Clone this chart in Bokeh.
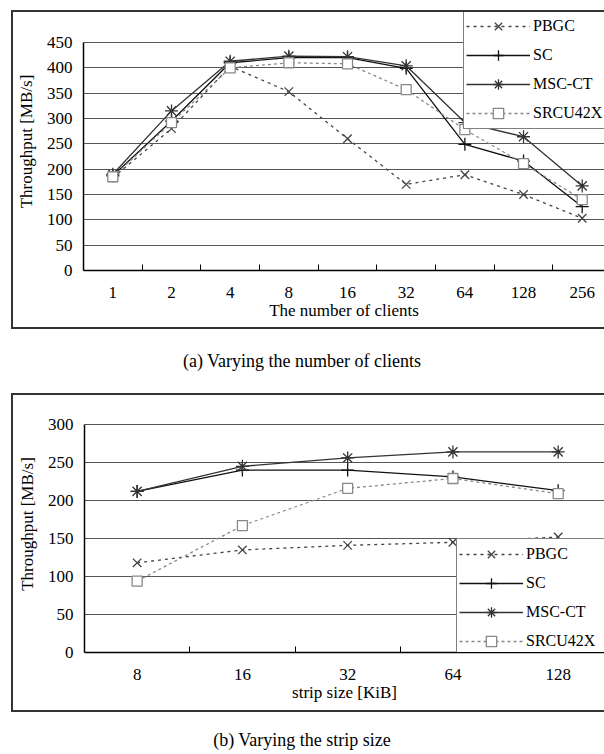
from bokeh.plotting import figure
from bokeh.models import FixedTicker, Range1d, Div, Spacer
from bokeh.layouts import column
from bokeh.embed import file_html
from bokeh.resources import INLINE

# ---------------- data ----------------
clients = ["1", "2", "4", "8", "16", "32", "64", "128", "256"]
a_pbgc = [183, 280, 403, 353, 260, 170, 189, 150, 103]
a_sc = [187, 295, 410, 420, 420, 399, 249, 216, 126]
a_msc = [190, 315, 413, 423, 422, 404, 292, 264, 167]
a_srcu = [185, 292, 400, 410, 408, 357, 278, 211, 140]
a_yticks = [0, 50, 100, 150, 200, 250, 300, 350, 400, 450]

strips = ["8", "16", "32", "64", "128"]
b_pbgc = [118, 135, 141, 145, 152]
b_sc = [212, 240, 240, 231, 213]
b_msc = [212, 245, 256, 264, 264]
b_srcu = [94, 167, 216, 229, 209]
b_yticks = [0, 50, 100, 150, 200, 250, 300]

series_names = ["PBGC", "SC", "MSC-CT", "SRCU42X"]

STYLE = {
    "PBGC": dict(color="#444444", dash="3 4", marker="x", size=12),
    "SC": dict(color="#111111", dash="solid", marker="cross", size=13),
    "MSC-CT": dict(color="#333333", dash="solid", marker="asterisk", size=13),
    "SRCU42X": dict(color="#888888", dash="3 3", marker="square", size=10),
}

FONT = "Liberation Serif"
FS = "17px"


def make_chart(cats, data, yticks, xlabel, left, bottom, ytop, xmax, legend_loc):
    n = len(cats)
    xs = list(range(n))
    p = figure(width=591, height=315, output_backend="svg", toolbar_location=None,
               x_range=Range1d(-0.5, xmax), y_range=Range1d(yticks[0], ytop),
               min_border_left=left, min_border_right=0, min_border_top=0,
               min_border_bottom=bottom)
    p.border_fill_color = "white"
    p.background_fill_color = "white"
    p.outline_line_color = None

    for name, ys in zip(series_names, data):
        st = STYLE[name]
        p.line(xs, ys, line_color=st["color"], line_dash=st["dash"], line_width=1.3,
               legend_label=name)
        p.scatter(xs, ys, marker=st["marker"], size=st["size"], line_color=st["color"],
                  fill_color="white", line_width=1.3, legend_label=name)

    # x axis
    p.xaxis.ticker = FixedTicker(ticks=xs, minor_ticks=[i + 0.5 for i in range(n - 1)])
    p.xaxis.major_label_overrides = {i: c for i, c in enumerate(cats)}
    p.xaxis.major_tick_in = 0
    p.xaxis.major_tick_out = 0
    p.xaxis.minor_tick_in = 6
    p.xaxis.minor_tick_out = 0
    p.xaxis.minor_tick_line_color = "black"
    p.xaxis.axis_line_color = "black"
    p.xaxis.axis_line_width = 1.5
    p.xaxis.major_label_standoff = 16
    p.xaxis.major_label_text_font = FONT
    p.xaxis.major_label_text_font_size = FS
    p.xaxis.major_label_text_color = "black"
    p.xaxis.axis_label = xlabel
    p.xaxis.axis_label_text_font = FONT
    p.xaxis.axis_label_text_font_size = FS
    p.xaxis.axis_label_text_font_style = "normal"
    p.xaxis.axis_label_text_color = "black"
    p.xaxis.axis_label_standoff = 0
    p.xgrid.grid_line_color = None

    # y axis
    p.yaxis.ticker = FixedTicker(ticks=yticks)
    p.yaxis.bounds = (yticks[0], yticks[-1])
    p.yaxis.major_tick_in = 0
    p.yaxis.major_tick_out = 0
    p.yaxis.minor_tick_line_color = None
    p.yaxis.axis_line_color = "black"
    p.yaxis.axis_line_width = 1.5
    p.yaxis.major_label_standoff = 11
    p.yaxis.major_label_text_font = FONT
    p.yaxis.major_label_text_font_size = FS
    p.yaxis.major_label_text_color = "black"
    p.yaxis.axis_label = "Throughput [MB/s]"
    p.yaxis.axis_label_text_font = FONT
    p.yaxis.axis_label_text_font_size = FS
    p.yaxis.axis_label_text_font_style = "normal"
    p.yaxis.axis_label_text_color = "black"
    p.yaxis.axis_label_standoff = 8
    p.ygrid.ticker = FixedTicker(ticks=yticks)
    p.ygrid.grid_line_color = "#555555"
    p.ygrid.grid_line_width = 1

    lg = p.legend[0]
    lg.location = legend_loc
    lg.border_line_color = "black"
    lg.border_line_width = 1
    lg.background_fill_color = "white"
    lg.background_fill_alpha = 1
    lg.padding = 2
    lg.margin = 0
    lg.spacing = 3
    lg.glyph_width = 64
    lg.glyph_height = 26
    lg.label_height = 26
    lg.label_width = 90
    lg.label_standoff = 3
    lg.label_text_font = FONT
    lg.label_text_font_size = "16px"
    lg.label_text_color = "black"
    return p


pa = make_chart(clients, [a_pbgc, a_sc, a_msc, a_srcu], a_yticks,
                "The number of clients", left=68, bottom=57, ytop=509.2, xmax=8.38,
                legend_loc=(380, 141))
pb = make_chart(strips, [b_pbgc, b_sc, b_msc, b_srcu], b_yticks,
                "strip size [KiB]", left=71, bottom=58, ytop=338.2, xmax=4.44,
                legend_loc=(372, -5))

box_style = {"border-top": "2px solid #333333", "border-left": "2px solid #333333",
             "border-bottom": "2px solid #333333"}
box_a = column(pa, styles=box_style, margin=(0, 0, 0, 11))
box_b = column(pb, styles=box_style, margin=(0, 0, 0, 11))

cap_style = {"font-family": FONT, "font-size": "18px", "color": "black",
             "text-align": "center", "overflow": "hidden"}
cap_a = Div(text="(a) Varying the number of clients", width=604, height=64, margin=0,
            styles=dict(cap_style, **{"line-height": "64px"}))
cap_b = Div(text='<div style="padding-top:14px;line-height:28px;height:28px">'
                 '(b) Varying the strip size</div>',
            width=604, height=42, margin=0, styles=cap_style)

layout = column(Spacer(width=604, height=10, margin=0), box_a, cap_a, box_b, cap_b,
                spacing=0, margin=0)

open("out.html", "w").write(file_html(layout, INLINE))
